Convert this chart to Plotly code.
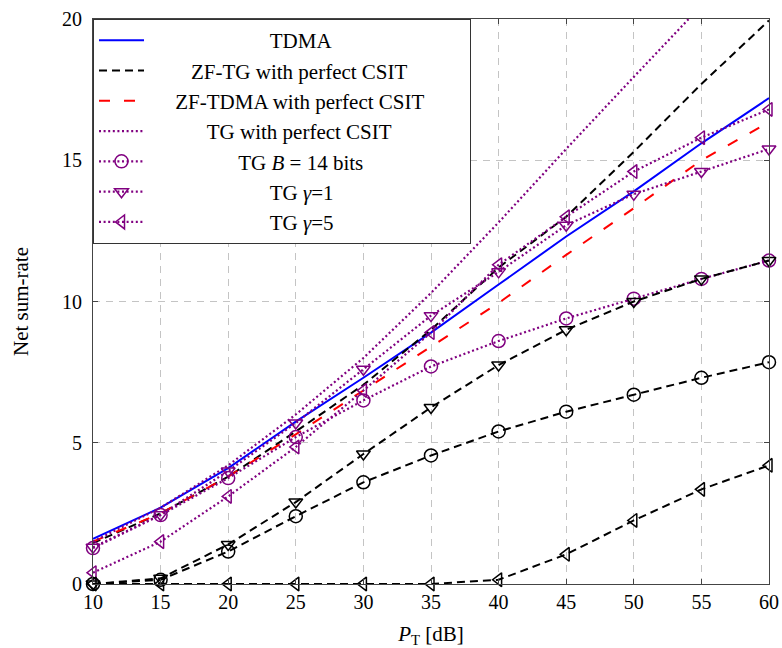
import plotly.graph_objects as go

# Transmit power grid [dB]
p_db = [10, 15, 20, 25, 30, 35, 40, 45, 50, 55, 60]

# Net sum-rate curves
tdma = [1.6, 2.7, 4.1, 5.75, 7.3, 8.9, 10.6, 12.3, 13.9, 15.6, 17.2]
zf_tg_perfect = [1.45, 2.5, 3.8, 5.4, 7.05, 9.0, 11.2, 13.0, 15.3, 17.7, 19.95]
zf_tdma_perfect = [1.5, 2.5, 3.8, 5.3, 6.85, 8.4, 9.95, 11.65, 13.3, 15.0, 16.35]
tg_perfect = [1.5, 2.7, 4.2, 6.0, 8.0, 10.3, 12.8, 15.4, 17.95, 20.5, 23.0]
tg_b14 = [1.27, 2.44, 3.75, 5.2, 6.5, 7.7, 8.6, 9.4, 10.1, 10.8, 11.45]
tg_gamma1 = [1.3, 2.45, 4.0, 5.7, 7.6, 9.5, 11.05, 12.7, 13.8, 14.6, 15.4]
tg_gamma5 = [0.4, 1.5, 3.1, 4.85, 6.85, 8.9, 11.3, 13.0, 14.6, 15.8, 16.8]

# Zero-forcing counterparts with imperfect CSIT (no legend entries)
zf_b14 = [0.0, 0.15, 1.15, 2.4, 3.6, 4.55, 5.4, 6.1, 6.7, 7.3, 7.85]
zf_gamma1 = [0.0, 0.2, 1.4, 2.9, 4.6, 6.25, 7.75, 9.0, 10.0, 10.8, 11.45]
zf_gamma5 = [0.0, 0.0, 0.0, 0.0, 0.0, 0.0, 0.15, 1.05, 2.25, 3.35, 4.2]

legend_labels = [
    "TDMA",
    "ZF-TG with perfect CSIT",
    "ZF-TDMA with perfect CSIT",
    "TG with perfect CSIT",
    "TG <i>B</i> = 14 bits",
    "TG <i>γ</i>=1",
    "TG <i>γ</i>=5",
]
# non-breaking spaces used to centre each label inside the legend box
legend_pad = [18, 3, 0, 6, 12, 18, 18]
LEAD = 5
TRAIL = 7

PURPLE = "#800080"
BLACK_DASH = "8px,5px"
RED_DASH = "11px,14px"
DOT = "2px,2.6px"
FONT = "Liberation Serif"


def label(i):
    return ("&nbsp;" * (legend_pad[i] + LEAD) + legend_labels[i]
            + "&nbsp;" * (legend_pad[i] + TRAIL))


fig = go.Figure()

fig.add_trace(go.Scatter(x=p_db, y=tdma, mode="lines", name=label(0),
                         line=dict(color="#0000ff", width=2)))
fig.add_trace(go.Scatter(x=p_db, y=zf_tg_perfect, mode="lines", name=label(1),
                         line=dict(color="black", width=2, dash=BLACK_DASH)))
fig.add_trace(go.Scatter(x=p_db, y=zf_tdma_perfect, mode="lines", name=label(2),
                         line=dict(color="#ff0000", width=2, dash=RED_DASH)))
fig.add_trace(go.Scatter(x=p_db, y=tg_perfect, mode="lines", name=label(3),
                         line=dict(color=PURPLE, width=2.2, dash=DOT)))

marker_series = [
    (tg_b14, label(4), PURPLE, DOT, "circle-open", 13, True),
    (tg_gamma1, label(5), PURPLE, DOT, "triangle-down-open", 12, True),
    (tg_gamma5, label(6), PURPLE, DOT, "triangle-left-open", 12, True),
    (zf_b14, "ZF B=14", "black", BLACK_DASH, "circle-open", 13, False),
    (zf_gamma1, "ZF γ=1", "black", BLACK_DASH, "triangle-down-open", 12, False),
    (zf_gamma5, "ZF γ=5", "black", BLACK_DASH, "triangle-left-open", 12, False),
]
for ys, nm, col, dash, sym, sz, show in marker_series:
    fig.add_trace(go.Scatter(
        x=p_db, y=ys, mode="lines+markers", name=nm, showlegend=show,
        cliponaxis=False,
        line=dict(color=col, width=2.2 if col == PURPLE else 2, dash=dash),
        marker=dict(symbol=sym, size=sz, color=col, line=dict(color=col, width=1.5)),
    ))

axis_common = dict(
    showline=True, linecolor="#444", linewidth=1.2, mirror="ticks",
    ticks="inside", ticklen=5, tickcolor="#444",
    showgrid=True, gridcolor="#c4c4c4", gridwidth=1, griddash="7px,6px",
    zeroline=False, automargin=False,
    tickfont=dict(family=FONT, size=20, color="black"),
)

fig.update_xaxes(range=[10, 60], tickvals=p_db,
                 title=dict(text="<i>P</i><sub>T</sub> [dB]",
                            font=dict(family=FONT, size=21, color="black"), standoff=14),
                 **axis_common)
fig.update_yaxes(range=[0, 20], tickvals=[0, 5, 10, 15, 20], ticklabelstandoff=6,
                 title=dict(text="Net sum-rate",
                            font=dict(family=FONT, size=21, color="black"), standoff=27),
                 **axis_common)

fig.update_layout(
    width=782, height=648,
    margin=dict(l=93, r=13, t=19, b=64),
    paper_bgcolor="white", plot_bgcolor="white",
    font=dict(family=FONT, color="black"),
    showlegend=True,
    legend=dict(x=0, y=1.0, xanchor="left", yanchor="top",
                bgcolor="white", bordercolor="#333", borderwidth=1,
                font=dict(family=FONT, size=21, color="black"),
                itemwidth=45, tracegroupgap=0),
)

fig.write_html("out.html")
